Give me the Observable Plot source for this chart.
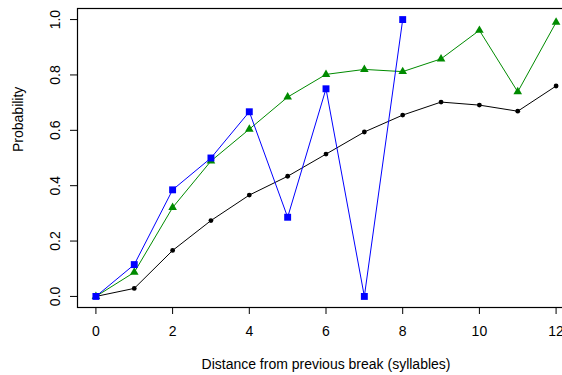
<!DOCTYPE html>
<html><head><meta charset="utf-8">
<script src="https://cdn.jsdelivr.net/npm/d3@7"></script>
<script src="https://cdn.jsdelivr.net/npm/@observablehq/plot@0.6"></script>
<style>body{margin:0;background:#fff} svg{display:block}</style>
</head><body><div id="chart"></div>
<script>
const distance = [0,1,2,3,4,5,6,7,8,9,10,11,12];
const blackSeries = [0,0.029,0.166,0.274,0.366,0.434,0.514,0.594,0.655,0.702,0.691,0.669,0.760];
const greenSeries = [0,0.087,0.321,0.489,0.604,0.720,0.802,0.820,0.812,0.858,0.961,0.739,0.990];
const blueDistance = [0,1,2,3,4,5,6,7,8];
const blueSeries = [0,0.115,0.385,0.5,0.667,0.286,0.75,0,1.0];
const xTicks = [0,2,4,6,8,10,12];
const yTicks = [0,0.2,0.4,0.6,0.8,1.0];
const xLabel = "Distance from previous break (syllables)";
const yLabel = "Probability";

const blackData = distance.map((d,i)=>({x:d,y:blackSeries[i]}));
const greenData = distance.map((d,i)=>({x:d,y:greenSeries[i]}));
const blueData = blueDistance.map((d,i)=>({x:d,y:blueSeries[i]}));

const font = "'Liberation Sans', Arial, Helvetica, sans-serif";
const chart = Plot.plot({
  width: 562, height: 375,
  marginLeft: 77, marginRight: -12, marginTop: 8, marginBottom: 68,
  style: {fontFamily: font, fontSize: "14px", background: "white", color: "black"},
  x: {domain: [-0.48, 12.48], range: [77, 574]},
  y: {domain: [-0.04, 1.04], range: [307, 8]},
  marks: [
    Plot.line(blackData, {x:"x", y:"y", stroke:"black", strokeWidth:1}),
    Plot.dot(blackData, {x:"x", y:"y", fill:"black", r:2.4, symbol:"circle"}),
    Plot.line(greenData, {x:"x", y:"y", stroke:"#008B00", strokeWidth:1}),
    Plot.dot(greenData, {x:"x", y:"y", fill:"#008B00", r:3.2, symbol:"triangle"}),
    Plot.line(blueData, {x:"x", y:"y", stroke:"#0000FF", strokeWidth:1}),
    Plot.dot(blueData, {x:"x", y:"y", fill:"#0000FF", r:3.9, symbol:"square"}),
    Plot.frame({stroke:"black", strokeWidth:1.2}),
    Plot.axisX({ticks: xTicks, tickSize: 7, tickPadding: 12, tickFormat: d3.format("d"), label: null, fontSize: 14}),
    Plot.axisY({ticks: yTicks, tickSize: 7, tickPadding: 11, tickRotate: -90, tickFormat: d3.format(".1f"), label: null, fontSize: 14}),
    Plot.text([xLabel], {text: d=>d, frameAnchor: "bottom", dy: 61, fontSize: 14}),
    Plot.text([yLabel], {text: d=>d, frameAnchor: "left", dx: -59, dy: -6, rotate: -90, fontSize: 14})
  ]
});
document.getElementById("chart").appendChild(chart);
</script>
</body></html>
